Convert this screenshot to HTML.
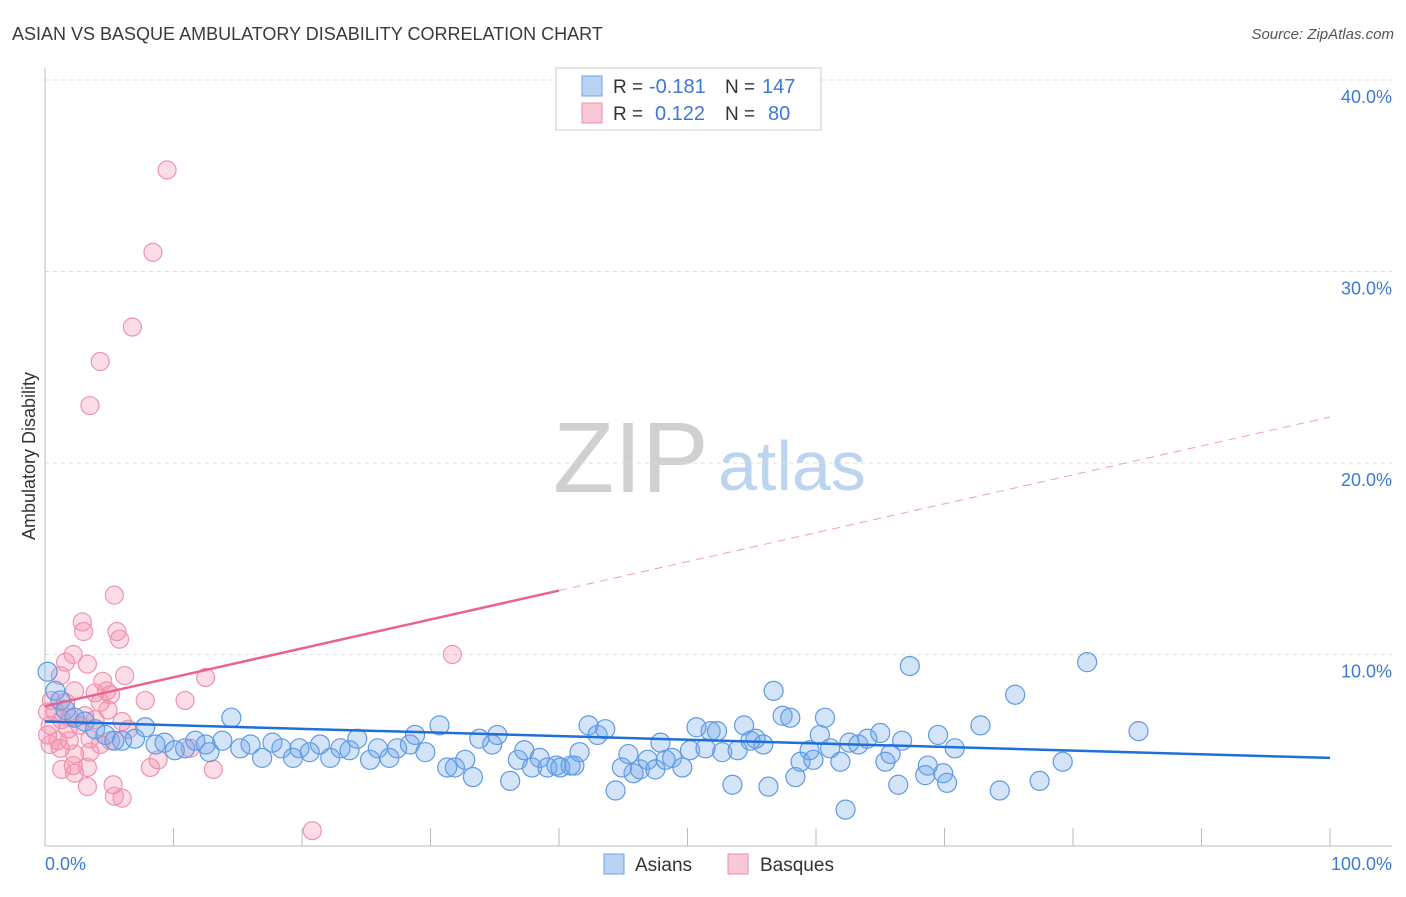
<!DOCTYPE html>
<html><head><meta charset="utf-8"><style>
body{margin:0;background:#fff;font-family:"Liberation Sans",sans-serif;}
svg text{font-family:"Liberation Sans",sans-serif;}
</style></head><body>
<svg width="1406" height="892" xmlns="http://www.w3.org/2000/svg">
<text x="12" y="40" font-size="18" fill="#3a3a3a">ASIAN VS BASQUE AMBULATORY DISABILITY CORRELATION CHART</text>
<text x="1394" y="39" font-size="15" fill="#555" font-style="italic" text-anchor="end">Source: ZipAtlas.com</text>
<text x="553" y="492" font-size="100" fill="#d0d0d0" font-family="Liberation Serif">ZIP</text>
<text x="718" y="490" font-size="70" fill="#bcd4f0">atlas</text>
<g id="grid"></g>
<g id="yticks"></g>
<line x1="45" y1="68" x2="45" y2="846" stroke="#bbb"/>
<line x1="45" y1="846" x2="1392" y2="846" stroke="#bbb"/>
<g id="xticks"></g>
<text x="45" y="870" font-size="18" fill="#3c78d8">0.0%</text>
<text x="1392" y="870" font-size="18" fill="#3c78d8" text-anchor="end">100.0%</text>
<text transform="translate(35,456) rotate(-90)" font-size="18" fill="#333" text-anchor="middle">Ambulatory Disability</text>
<g id="pink"></g>
<g id="blue"></g>
<g id="lines"></g>
<g>
<rect x="556" y="68" width="265" height="62" fill="#fff" stroke="#ccc"/>
<rect x="582" y="76" width="20" height="20" fill="#b9d3f5" stroke="#6ea1e4"/>
<rect x="582" y="103" width="20" height="20" fill="#f9c8d6" stroke="#ec8fac"/>
<text x="613" y="93" font-size="19" fill="#333">R =</text>
<text x="649" y="93" font-size="20" fill="#3c78d8">-0.181</text>
<text x="725" y="93" font-size="19" fill="#333">N =</text>
<text x="762" y="93" font-size="20" fill="#3c78d8">147</text>
<text x="613" y="120" font-size="19" fill="#333">R =</text>
<text x="655" y="120" font-size="20" fill="#3c78d8">0.122</text>
<text x="725" y="120" font-size="19" fill="#333">N =</text>
<text x="768" y="120" font-size="20" fill="#3c78d8">80</text>
</g>
<g>
<rect x="604" y="854" width="20" height="20" fill="#b9d3f5" stroke="#6ea1e4"/>
<text x="635" y="871" font-size="19" fill="#333">Asians</text>
<rect x="728" y="854" width="20" height="20" fill="#f9c8d6" stroke="#ec8fac"/>
<text x="760" y="871" font-size="19" fill="#333">Basques</text>
</g>
</svg>
<script>
const yTicks=[10,20,30,40];
const yTickLabels=["10.0%","20.0%","30.0%","40.0%"];
const xTicks=[10,20,30,40,50,60,70,80,90,100];
const asianX=[0.2,0.8,1.2,1.6,2.3,3.1,3.9,4.7,5.4,6.0,7.0,7.8,8.6,9.3,10.1,10.9,11.7,12.5,12.8,13.8,14.5,15.2,16.0,16.9,17.7,18.4,19.3,19.8,20.6,21.4,22.2,23.0,23.7,24.3,25.3,25.9,26.8,27.4,28.4,28.8,29.6,30.7,31.3,31.9,32.7,33.3,33.8,34.8,35.2,36.2,36.8,37.3,37.9,38.5,39.1,39.8,40.1,40.9,41.2,41.6,42.3,43.0,43.6,44.4,44.9,45.4,45.8,46.3,46.9,47.5,47.9,48.3,48.8,49.6,50.2,50.7,51.4,51.8,52.3,52.7,53.5,53.9,54.4,54.9,55.3,55.9,56.3,56.7,57.4,58.0,58.4,58.8,59.5,59.8,60.3,60.7,61.1,61.9,62.3,62.6,63.3,64.0,65.0,65.4,65.8,66.4,66.7,67.3,68.5,68.7,69.5,69.9,70.2,70.8,72.8,74.3,75.5,77.4,79.2,81.1,85.1];
const asianY=[9.1,8.1,7.6,7.1,6.7,6.5,6.1,5.8,5.5,5.5,5.6,6.2,5.3,5.4,5.0,5.1,5.5,5.3,4.9,5.5,6.7,5.1,5.3,4.6,5.4,5.1,4.6,5.1,4.9,5.3,4.6,5.1,5.0,5.6,4.5,5.1,4.6,5.1,5.3,5.8,4.9,6.3,4.1,4.1,4.5,3.6,5.6,5.3,5.8,3.4,4.5,5.0,4.1,4.6,4.1,4.2,4.1,4.2,4.2,4.9,6.3,5.8,6.1,2.9,4.1,4.8,3.8,4.0,4.5,4.0,5.4,4.5,4.6,4.1,5.0,6.2,5.1,6.0,6.0,4.9,3.2,5.0,6.3,5.5,5.6,5.3,3.1,8.1,6.8,6.7,3.6,4.4,5.0,4.5,5.8,6.7,5.1,4.4,1.9,5.4,5.3,5.6,5.9,4.4,4.8,3.2,5.5,9.4,3.7,4.2,5.8,3.8,3.3,5.1,6.3,2.9,7.9,3.4,4.4,9.6,6.0];
const basqueX=[9.5,8.4,6.8,4.3,3.5,5.4,2.9,3.0,5.6,5.8,31.7,2.2,1.6,3.3,1.2,6.2,12.5,4.5,4.8,2.3,3.9,5.1,7.8,10.9,1.6,4.3,4.9,0.8,1.3,0.4,1.9,2.7,6.0,6.5,0.2,1.0,1.9,3.5,4.3,5.1,1.2,2.3,3.5,11.3,8.8,8.2,2.2,3.3,1.3,2.3,13.1,5.3,3.3,5.4,6.0,20.8,0.4,0.2,0.5,1.8,3.1,3.9];
const basqueY=[35.3,31.0,27.1,25.3,23.0,13.1,11.7,11.2,11.2,10.8,10.0,10.0,9.6,9.5,8.9,8.9,8.8,8.6,8.1,8.1,8.0,7.9,7.6,7.6,7.5,7.5,7.1,7.0,6.6,6.3,6.7,6.3,6.5,6.1,5.8,5.5,5.5,5.6,5.3,5.5,5.1,4.8,4.9,5.1,4.5,4.1,4.2,4.1,4.0,3.8,4.0,3.2,3.1,2.6,2.5,0.8,5.3,7.0,7.6,6.1,6.8,6.6];
const asianTrend=[6.5,4.6];
const basqueTrend=[7.3,22.4];
const basqueSolidEnd=40;
const NS="http://www.w3.org/2000/svg";
const X=v=>45+v*12.85, Y=v=>846-v*19.15;
function mk(t,a,p){const e=document.createElementNS(NS,t);for(const k in a)e.setAttribute(k,a[k]);p.appendChild(e);return e;}
const grid=document.getElementById('grid'),yt=document.getElementById('yticks'),xt=document.getElementById('xticks');
yTicks.forEach((v,i)=>{
 const l=mk('line',{x1:45,x2:1392,y1:Y(v),y2:Y(v),stroke:'#ddd','stroke-dasharray':'4,4'},grid);
 
 
 const t=mk('text',{x:1392,y:Y(v)+23,'font-size':18,fill:'#3c78d8','text-anchor':'end'},yt);
 t.textContent=yTickLabels[i];
 
 
});
xTicks.forEach(v=>{
 const l=mk('line',{x1:X(v),x2:X(v),y1:828,y2:846,stroke:'#bbb'},xt);
 
 
});
const pink=document.getElementById('pink'),blue=document.getElementById('blue');
basqueX.forEach((x,i)=>{
 const c=mk('circle',{cx:X(x),cy:Y(basqueY[i]),r:9,fill:'rgba(244,140,170,0.3)',stroke:'#ee94b0','stroke-width':1.2},pink);
 
 
});
asianX.forEach((x,i)=>{
 const c=mk('circle',{cx:X(x),cy:Y(asianY[i]),r:9.5,fill:'rgba(110,165,235,0.3)',stroke:'#5f9ae3','stroke-width':1.2},blue);
 
 
});
const lg=document.getElementById('lines');
const bt=x=>basqueTrend[0]+(basqueTrend[1]-basqueTrend[0])*x/100;
const l1=mk('line',{x1:X(0),y1:Y(asianTrend[0]),x2:X(100),y2:Y(asianTrend[1]),stroke:'#1f6fd8','stroke-width':2.5},lg);


const l2=mk('line',{x1:X(0),y1:Y(bt(0)),x2:X(basqueSolidEnd),y2:Y(bt(basqueSolidEnd)),stroke:'#e8648e','stroke-width':2.5},lg);


const l3=mk('line',{x1:X(basqueSolidEnd),y1:Y(bt(basqueSolidEnd)),x2:X(100),y2:Y(bt(100)),stroke:'#eba0b8','stroke-width':1,'stroke-dasharray':'8,6'},lg);


</script>
</body></html>
